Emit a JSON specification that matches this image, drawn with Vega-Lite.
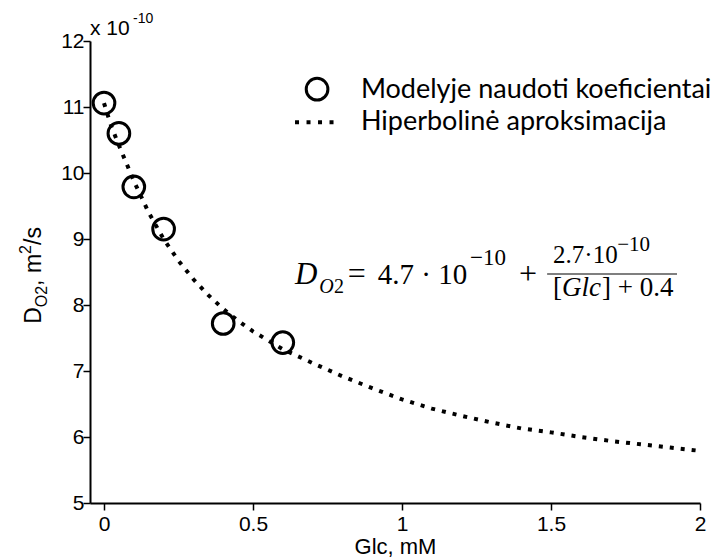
{
  "$schema": "https://vega.github.io/schema/vega-lite/v6.json",
  "width": 610,
  "height": 462,
  "autosize": "none",
  "padding": {"left": 90, "top": 41, "right": 18, "bottom": 57},
  "background": "white",
  "config": {
    "view": {"stroke": null},
    "axis": {
      "domainColor": "black",
      "domainWidth": 2,
      "tickColor": "black",
      "tickWidth": 1.5,
      "tickSize": 7,
      "labelColor": "black",
      "labelFont": "Liberation Sans",
      "labelFontSize": 21,
      "titleFont": "Liberation Sans",
      "titleFontSize": 22,
      "titleFontWeight": "normal",
      "titleColor": "black",
      "grid": false
    }
  },
  "datasets": {
    "coef": [
      {"Glc": 0, "D": 11.06},
      {"Glc": 0.05, "D": 10.6},
      {"Glc": 0.1, "D": 9.79},
      {"Glc": 0.2, "D": 9.15},
      {"Glc": 0.4, "D": 7.72},
      {"Glc": 0.6, "D": 7.43}
    ],
    "fit": [
      {"Glc": 0, "D": 11.06},
      {"Glc": 0.025, "D": 10.7},
      {"Glc": 0.05, "D": 10.42},
      {"Glc": 0.075, "D": 10.15},
      {"Glc": 0.1, "D": 9.88},
      {"Glc": 0.15, "D": 9.4},
      {"Glc": 0.2, "D": 9.0},
      {"Glc": 0.25, "D": 8.67},
      {"Glc": 0.3, "D": 8.39},
      {"Glc": 0.35, "D": 8.15},
      {"Glc": 0.4, "D": 7.94},
      {"Glc": 0.45, "D": 7.76},
      {"Glc": 0.5, "D": 7.6},
      {"Glc": 0.6, "D": 7.33},
      {"Glc": 0.7, "D": 7.12},
      {"Glc": 0.8, "D": 6.92},
      {"Glc": 0.9, "D": 6.74},
      {"Glc": 1.0, "D": 6.57},
      {"Glc": 1.1, "D": 6.43},
      {"Glc": 1.2, "D": 6.32},
      {"Glc": 1.3, "D": 6.22},
      {"Glc": 1.4, "D": 6.13},
      {"Glc": 1.5, "D": 6.07},
      {"Glc": 1.6, "D": 6.0},
      {"Glc": 1.7, "D": 5.94},
      {"Glc": 1.8, "D": 5.89},
      {"Glc": 1.9, "D": 5.84},
      {"Glc": 2.0, "D": 5.79}
    ],
    "legendLine": [
      {"Glc": 0.641, "D": 10.77},
      {"Glc": 0.772, "D": 10.77}
    ]
  },
  "layer": [
    {
      "data": {"name": "fit"},
      "mark": {"type": "line", "color": "black", "strokeWidth": 4, "strokeDash": [4, 7], "strokeCap": "butt"},
      "encoding": {
        "x": {
          "field": "Glc", "type": "quantitative",
          "scale": {"domain": [-0.047, 2], "nice": false, "zero": false},
          "axis": {"values": [0, 0.5, 1, 1.5, 2], "format": "~g", "title": "Glc, mM", "labelPadding": 3, "titlePadding": 2, "labelFlush": false,
                   "encode": {"ticks": {"update": {"y2": {"value": -7}}}}}
        },
        "y": {
          "field": "D", "type": "quantitative",
          "scale": {"domain": [5, 12], "nice": false, "zero": false},
          "axis": {"values": [5, 6, 7, 8, 9, 10, 11, 12], "format": "~g", "title": null, "labelPadding": -1, "labelFlush": false,
                   "encode": {"ticks": {"update": {"x2": {"value": 7}}}}}
        }
      }
    },
    {
      "data": {"name": "coef"},
      "mark": {"type": "point", "shape": "circle", "filled": false, "color": "black", "strokeWidth": 3, "size": 470, "opacity": 1},
      "encoding": {
        "x": {"field": "Glc", "type": "quantitative"},
        "y": {"field": "D", "type": "quantitative"}
      }
    },
    {
      "data": {"values": [{}]},
      "mark": {"type": "point", "shape": "circle", "filled": false, "color": "black", "strokeWidth": 3, "size": 470, "opacity": 1},
      "encoding": {"x": {"datum": 0.715}, "y": {"datum": 11.27}}
    },
    {
      "data": {"name": "legendLine"},
      "mark": {"type": "line", "color": "black", "strokeWidth": 4, "strokeDash": [4, 7.5], "strokeCap": "butt"},
      "encoding": {"x": {"field": "Glc", "type": "quantitative"}, "y": {"field": "D", "type": "quantitative"}}
    },
    {
      "data": {"values": [{}]},
      "mark": {"type": "text", "text": "Modelyje naudoti koeficientai", "font": "Lato", "fontSize": 27, "align": "left", "baseline": "middle", "color": "black"},
      "encoding": {"x": {"datum": 0.862}, "y": {"datum": 11.26}}
    },
    {
      "data": {"values": [{}]},
      "mark": {"type": "text", "text": "Hiperbolinė aproksimacija", "font": "Lato", "fontSize": 27, "align": "left", "baseline": "middle", "color": "black"},
      "encoding": {"x": {"datum": 0.862}, "y": {"datum": 10.77}}
    },
    {
      "data": {"values": [{}]},
      "mark": {"type": "text", "text": "x 10", "font": "Liberation Sans", "fontSize": 21, "align": "left", "baseline": "alphabetic", "color": "black", "dy": -6},
      "encoding": {"x": {"datum": -0.047}, "y": {"datum": 12}}
    },
    {
      "data": {"values": [{}]},
      "mark": {"type": "text", "text": "-10", "font": "Liberation Sans", "fontSize": 14, "align": "left", "baseline": "alphabetic", "color": "black", "dx": 43, "dy": -18},
      "encoding": {"x": {"datum": -0.047}, "y": {"datum": 12}}
    },
    {
      "data": {"values": [{}]},
      "mark": {"type": "text", "text": "D", "font": "Liberation Sans", "fontSize": 23, "align": "left", "baseline": "alphabetic", "angle": 270, "color": "black", "dx": -48.5},
      "encoding": {"x": {"datum": -0.21}, "y": {"datum": 8.45}}
    },
    {
      "data": {"values": [{}]},
      "mark": {"type": "text", "text": "O2", "font": "Liberation Sans", "fontSize": 16, "align": "left", "baseline": "alphabetic", "angle": 270, "color": "black", "dx": -32, "dy": 6},
      "encoding": {"x": {"datum": -0.21}, "y": {"datum": 8.45}}
    },
    {
      "data": {"values": [{}]},
      "mark": {"type": "text", "text": ", m", "font": "Liberation Sans", "fontSize": 23, "align": "left", "baseline": "alphabetic", "angle": 270, "color": "black", "dx": -10.6},
      "encoding": {"x": {"datum": -0.21}, "y": {"datum": 8.45}}
    },
    {
      "data": {"values": [{}]},
      "mark": {"type": "text", "text": "2", "font": "Liberation Sans", "fontSize": 16, "align": "left", "baseline": "alphabetic", "angle": 270, "color": "black", "dx": 21.4, "dy": -10},
      "encoding": {"x": {"datum": -0.21}, "y": {"datum": 8.45}}
    },
    {
      "data": {"values": [{}]},
      "mark": {"type": "text", "text": "/s", "font": "Liberation Sans", "fontSize": 23, "align": "left", "baseline": "alphabetic", "angle": 270, "color": "black", "dx": 30.3},
      "encoding": {"x": {"datum": -0.21}, "y": {"datum": 8.45}}
    },
    {
      "data": {"values": [{}]},
      "mark": {"type": "text", "text": "D", "font": "Liberation Serif", "fontStyle": "italic", "fontSize": 31, "align": "left", "baseline": "alphabetic", "color": "black"},
      "encoding": {"x": {"datum": 0.641}, "y": {"datum": 8.32}}
    },
    {
      "data": {"values": [{}]},
      "mark": {"type": "text", "text": "O", "font": "Liberation Serif", "fontStyle": "italic", "fontSize": 20, "align": "left", "baseline": "alphabetic", "color": "black"},
      "encoding": {"x": {"datum": 0.722}, "y": {"datum": 8.18}}
    },
    {
      "data": {"values": [{}]},
      "mark": {"type": "text", "text": "2", "font": "Liberation Serif", "fontSize": 20, "align": "left", "baseline": "alphabetic", "color": "black"},
      "encoding": {"x": {"datum": 0.772}, "y": {"datum": 8.18}}
    },
    {
      "data": {"values": [{}]},
      "mark": {"type": "text", "text": "=", "font": "Liberation Serif", "fontSize": 32, "align": "left", "baseline": "alphabetic", "color": "black"},
      "encoding": {"x": {"datum": 0.818}, "y": {"datum": 8.32}}
    },
    {
      "data": {"values": [{}]},
      "mark": {"type": "text", "text": "4.7 · 10", "font": "Liberation Serif", "fontSize": 29, "align": "left", "baseline": "alphabetic", "color": "black"},
      "encoding": {"x": {"datum": 0.919}, "y": {"datum": 8.32}}
    },
    {
      "data": {"values": [{}]},
      "mark": {"type": "text", "text": "−10", "font": "Liberation Serif", "fontSize": 23, "align": "left", "baseline": "alphabetic", "color": "black"},
      "encoding": {"x": {"datum": 1.228}, "y": {"datum": 8.61}}
    },
    {
      "data": {"values": [{}]},
      "mark": {"type": "text", "text": "+", "font": "Liberation Serif", "fontSize": 32, "align": "left", "baseline": "alphabetic", "color": "black"},
      "encoding": {"x": {"datum": 1.393}, "y": {"datum": 8.32}}
    },
    {
      "data": {"values": [{}]},
      "mark": {"type": "text", "text": "2.7·10", "font": "Liberation Serif", "fontSize": 25, "align": "left", "baseline": "alphabetic", "color": "black"},
      "encoding": {"x": {"datum": 1.507}, "y": {"datum": 8.64}}
    },
    {
      "data": {"values": [{}]},
      "mark": {"type": "text", "text": "−10", "font": "Liberation Serif", "fontSize": 21, "align": "left", "baseline": "alphabetic", "color": "black"},
      "encoding": {"x": {"datum": 1.722}, "y": {"datum": 8.82}}
    },
    {
      "data": {"values": [{}]},
      "mark": {"type": "rule", "color": "black", "strokeWidth": 1.2},
      "encoding": {"x": {"datum": 1.487}, "x2": {"datum": 1.923}, "y": {"datum": 8.47}}
    },
    {
      "data": {"values": [{}]},
      "mark": {"type": "text", "text": "[", "font": "Liberation Serif", "fontSize": 27, "align": "left", "baseline": "alphabetic", "color": "black"},
      "encoding": {"x": {"datum": 1.507}, "y": {"datum": 8.13}}
    },
    {
      "data": {"values": [{}]},
      "mark": {"type": "text", "text": "Glc", "font": "Liberation Serif", "fontStyle": "italic", "fontSize": 27, "align": "left", "baseline": "alphabetic", "color": "black"},
      "encoding": {"x": {"datum": 1.537}, "y": {"datum": 8.13}}
    },
    {
      "data": {"values": [{}]},
      "mark": {"type": "text", "text": "] + 0.4", "font": "Liberation Serif", "fontSize": 27, "align": "left", "baseline": "alphabetic", "color": "black"},
      "encoding": {"x": {"datum": 1.671}, "y": {"datum": 8.13}}
    }
  ]
}
